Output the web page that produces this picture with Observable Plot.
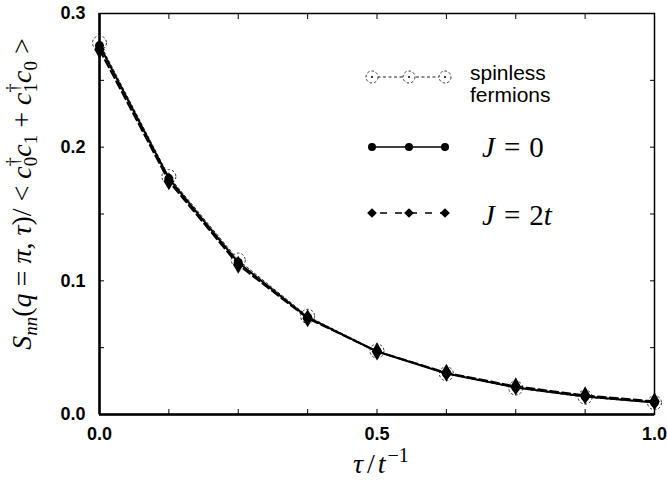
<!DOCTYPE html>
<html>
<head>
<meta charset="utf-8">
<script src="https://cdn.jsdelivr.net/npm/d3@7"></script>
<script src="https://cdn.jsdelivr.net/npm/@observablehq/plot@0.6"></script>
<style>
  html, body { margin: 0; padding: 0; background: #fff; }
  #chart { width: 667px; height: 487px; }
</style>
</head>
<body>
<div id="chart"></div>
<script>
// Imaginary-time density correlation at q = pi, normalised by the kinetic term
const tau = [0, 0.125, 0.25, 0.375, 0.5, 0.625, 0.75, 0.875, 1.0];
const spinless = [0.278, 0.178, 0.1155, 0.0735, 0.0475, 0.0305, 0.0198, 0.0130, 0.0088];
const jZero    = [0.276, 0.1765, 0.1137, 0.0726, 0.0471, 0.0307, 0.0202, 0.0135, 0.0090];
const jTwoT    = [0.273, 0.1745, 0.1120, 0.0720, 0.0472, 0.0312, 0.0210, 0.0143, 0.0098];

const xMinorTicks = d3.range(0, 9).map(i => i * 0.125);
const yMinorTicks = d3.range(0, 7).map(i => i * 0.05);
const xLabelTicks = [0, 0.5, 1.0];
const yLabelTicks = [0, 0.1, 0.2, 0.3];

const rows = (name, ys) => tau.map((t, i) => ({series: name, tau: t, s: ys[i]}));
const spinRows = rows("spinless fermions", spinless);
const j0Rows = rows("J = 0", jZero);
const j2Rows = rows("J = 2t", jTwoT);

const fmt = d3.format(".1f");
const tickFont = {fontSize: 18, fontWeight: "bold"};

const svg = Plot.plot({
  width: 667,
  height: 487,
  marginLeft: 99,
  marginRight: 13,
  marginTop: 13,
  marginBottom: 73,
  style: {fontFamily: "'Liberation Sans', Arial, sans-serif", background: "#fff", color: "#000"},
  x: {domain: [0, 1], label: null},
  y: {domain: [0, 0.3], label: null},
  marks: [
    // inward ticks on all four sides
    Plot.axisX(xMinorTicks, {anchor: "bottom", tickSize: -5, tickFormat: () => "", label: null}),
    Plot.axisX(xMinorTicks, {anchor: "top", tickSize: -5, tickFormat: () => "", label: null}),
    Plot.axisY(yMinorTicks, {anchor: "left", tickSize: -5, tickFormat: () => "", label: null}),
    Plot.axisY(yMinorTicks, {anchor: "right", tickSize: -5, tickFormat: () => "", label: null}),
    // tick labels
    Plot.axisX(xLabelTicks, {anchor: "bottom", tickSize: 0, tickPadding: 13, tickFormat: fmt, label: null, ...tickFont}),
    Plot.axisY(yLabelTicks, {anchor: "left", tickSize: 0, tickPadding: 14, tickFormat: fmt, label: null, ...tickFont}),
    Plot.frame({stroke: "#000", strokeWidth: 1.5}),
    Plot.ruleX([0], {stroke: "#000", strokeWidth: 2.5}),
    Plot.ruleY([0], {stroke: "#000", strokeWidth: 2.5}),
    // spinless fermions: dotted line, dashed open circles
    Plot.line(spinRows, {x: "tau", y: "s", stroke: "#222", strokeWidth: 1, strokeDasharray: "2.5,2.5"}),
    Plot.dot(spinRows, {x: "tau", y: "s", r: 7, stroke: "#333", strokeWidth: 1, strokeDasharray: "2.5,2", fill: "none"}),
    // J = 2t: dashed line, filled diamonds
    Plot.line(j2Rows, {x: "tau", y: "s", stroke: "#000", strokeWidth: 2, strokeDasharray: "8,4"}),
    Plot.dot(j2Rows, {x: "tau", y: "s", symbol: "diamond", r: 5.5, fill: "#000", stroke: "none"}),
    // J = 0: solid line, filled circles
    Plot.line(j0Rows, {x: "tau", y: "s", stroke: "#000", strokeWidth: 2}),
    Plot.dot(j0Rows, {x: "tau", y: "s", r: 4.5, fill: "#000", stroke: "none"})
  ]
});

document.getElementById("chart").appendChild(svg);

// axis titles and legend, placed in pixel space of the figure
const root = d3.select(svg);
const mathFont = "'Liberation Serif', 'Times New Roman', serif";

// x title: tau / t^-1
const xt = root.append("text")
  .attr("x", 353).attr("y", 473)
  .attr("text-anchor", "start")
  .attr("font-family", mathFont).attr("font-size", 28).attr("fill", "#000");
xt.append("tspan").attr("font-style", "italic").text("τ");
xt.append("tspan").attr("dx", 4).text("/");
xt.append("tspan").attr("dx", 3).attr("font-style", "italic").text("t");
xt.append("tspan").attr("dx", 2).attr("font-size", 20).attr("dy", -11).text("−1");

// y title: S_nn(q = pi, tau) / < c0† c1 + c1† c0 >
const yt = root.append("text")
  .attr("transform", "translate(31,194) rotate(-90)")
  .attr("text-anchor", "middle")
  .attr("font-family", mathFont).attr("font-size", 28).attr("fill", "#000");
// pending baseline shift carried to the next normal-size piece
let shift = 0;
const piece = (txt, italic) => {
  const t = yt.append("tspan").attr("font-style", italic ? "italic" : null).text(txt);
  if (shift) { t.attr("dy", shift); shift = 0; }
};
const sub = (txt, italic) => {
  yt.append("tspan").attr("font-size", 19).attr("dy", 6).attr("font-style", italic ? "italic" : null).text(txt);
  shift = -6;
};
const cDag = (idx) => {
  piece("c", true);
  yt.append("tspan").attr("font-size", 18).attr("dy", -12).text("†");
  yt.append("tspan").attr("font-size", 19).attr("dx", -9).attr("dy", 18).text(idx);
  shift = -6;
};
const cPlain = (idx) => { piece("c", true); sub(idx, false); };

piece("S", true);
sub("nn", true);
piece("(");
piece("q", true);
piece(" = ");
piece("π", true);
piece(", ");
piece("τ", true);
piece(")/ < ");
cDag("0"); cPlain("1");
piece(" + ");
cDag("1"); cPlain("0");
piece(" >");

// legend
const legend = root.append("g").attr("text-anchor", "start");
const lx = [372, 409, 445];
const rowY = [77, 147, 213];
const sans = "'Liberation Sans', Arial, sans-serif";

legend.append("line").attr("x1", lx[0]).attr("x2", lx[2]).attr("y1", rowY[0]).attr("y2", rowY[0])
  .attr("stroke", "#222").attr("stroke-width", 1.2).attr("stroke-dasharray", "3,2.5");
lx.forEach(x => {
  legend.append("circle").attr("cx", x).attr("cy", rowY[0]).attr("r", 6)
    .attr("fill", "#fff").attr("stroke", "#333").attr("stroke-dasharray", "2.5,2");
  legend.append("circle").attr("cx", x).attr("cy", rowY[0]).attr("r", 1).attr("fill", "#000");
});
legend.append("text").attr("x", 470).attr("y", 80)
  .attr("font-size", 21).attr("font-family", sans).text("spinless");
legend.append("text").attr("x", 470).attr("y", 102)
  .attr("font-size", 21).attr("font-family", sans).text("fermions");

legend.append("line").attr("x1", lx[0]).attr("x2", lx[2]).attr("y1", rowY[1]).attr("y2", rowY[1])
  .attr("stroke", "#000").attr("stroke-width", 1.3);
lx.forEach(x => legend.append("circle").attr("cx", x).attr("cy", rowY[1]).attr("r", 4).attr("fill", "#000"));
const t1 = legend.append("text").attr("x", 482).attr("y", 157)
  .attr("font-size", 29).attr("font-family", mathFont);
t1.append("tspan").attr("font-style", "italic").text("J");
t1.append("tspan").attr("dx", 9).text("=");
t1.append("tspan").attr("dx", 9).text("0");

legend.append("line").attr("x1", lx[0]).attr("x2", lx[2]).attr("y1", rowY[2]).attr("y2", rowY[2])
  .attr("stroke", "#000").attr("stroke-width", 1.5).attr("stroke-dasharray", "7,8").attr("stroke-dashoffset", -8);
const diamond = d3.symbol(d3.symbolDiamond2 || d3.symbolDiamond, 60);
lx.forEach(x => legend.append("path").attr("d", diamond()).attr("transform", `translate(${x},${rowY[2]})`).attr("fill", "#000"));
const t2 = legend.append("text").attr("x", 482).attr("y", 225)
  .attr("font-size", 29).attr("font-family", mathFont);
t2.append("tspan").attr("font-style", "italic").text("J");
t2.append("tspan").attr("dx", 9).text("=");
t2.append("tspan").attr("dx", 9).text("2");
t2.append("tspan").attr("font-style", "italic").text("t");
</script>
</body>
</html>
